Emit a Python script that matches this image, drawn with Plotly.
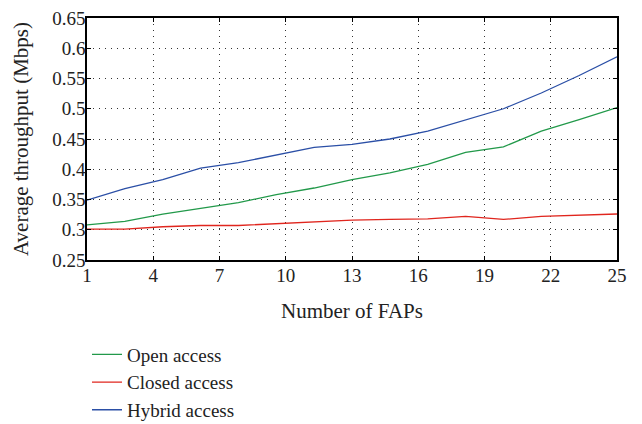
import plotly.graph_objects as go

n_faps = [1, 2.714, 4.429, 6.143, 7.857, 9.571, 11.286, 13, 14.714, 16.429, 18.143, 19.857, 21.571, 23.286, 25]
open_access = [0.308, 0.314, 0.326, 0.336, 0.345, 0.358, 0.369, 0.383, 0.394, 0.408, 0.428, 0.437, 0.463, 0.482, 0.502]
closed_access = [0.301, 0.301, 0.305, 0.307, 0.307, 0.310, 0.313, 0.316, 0.317, 0.318, 0.322, 0.317, 0.322, 0.324, 0.326]
hybrid_access = [0.349, 0.368, 0.383, 0.402, 0.411, 0.424, 0.436, 0.441, 0.450, 0.463, 0.481, 0.500, 0.526, 0.555, 0.586]

x_ticks = [1, 4, 7, 10, 13, 16, 19, 22, 25]
y_ticks = [0.25, 0.3, 0.35, 0.4, 0.45, 0.5, 0.55, 0.6, 0.65]
y_labels = ["0.25", "0.3", "0.35", "0.4", "0.45", "0.5", "0.55", "0.6", "0.65"]

FONT = "Liberation Serif, DejaVu Serif, serif"
TXT = "#222222"

fig = go.Figure()
series = [
    ("Open access", open_access, "#22994a"),
    ("Closed access", closed_access, "#e0261e"),
    ("Hybrid access", hybrid_access, "#2b4fa6"),
]
for name, vals, col in series:
    fig.add_trace(go.Scatter(x=n_faps, y=vals, mode="lines", name=name,
                             legendgroup="all",
                             line=dict(color=col, width=1.3)))

axis_common = dict(
    showline=True, linecolor="black", linewidth=1.5, mirror="ticks",
    ticks="inside", ticklen=4, tickcolor="black", tickwidth=1,
    showgrid=True, gridcolor="#333333", gridwidth=1, griddash="1px,5px",
    zeroline=False, automargin=False,
    ticklabeloverflow="allow",
    tickfont=dict(family=FONT, size=19, color=TXT),
)

fig.update_xaxes(range=[1, 25], tickvals=x_ticks, ticktext=[str(v) for v in x_ticks],
                 ticklabelstandoff=-3,
                 title=dict(text="Number of FAPs", font=dict(family=FONT, size=21, color=TXT), standoff=19),
                 **axis_common)
fig.update_yaxes(range=[0.25, 0.65], tickvals=y_ticks, ticktext=y_labels,
                 ticklabelstandoff=-4,
                 title=dict(text="Average throughput (Mbps)", font=dict(family=FONT, size=21, color=TXT), standoff=18),
                 **axis_common)

fig.update_layout(
    width=642, height=424,
    margin=dict(l=79, r=33, t=10, b=172, autoexpand=False),
    plot_bgcolor="white", paper_bgcolor="white",
    font=dict(family=FONT, size=19, color=TXT),
    legend=dict(x=0.0, y=-0.312, xanchor="left", yanchor="top",
                font=dict(family=FONT, size=19, color=TXT),
                tracegroupgap=0, bgcolor="rgba(0,0,0,0)"),
    showlegend=True,
)

fig.write_html("out.html")
